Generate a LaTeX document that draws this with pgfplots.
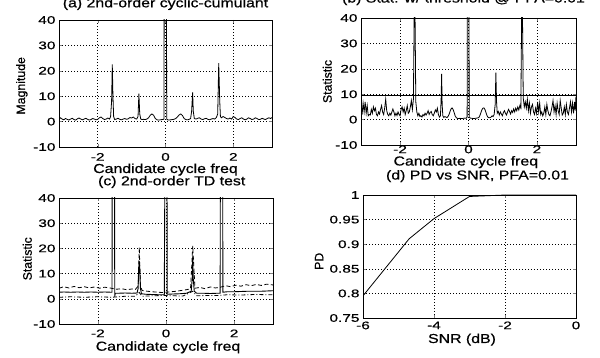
\documentclass[border=0pt]{standalone}
\usepackage{pgfplots}
\pgfplotsset{compat=1.18}
\usepackage{fontspec}
\setmainfont[FakeStretch=1.22,FakeBold=0.6]{Liberation Sans}
\newfontfamily\tickfont[FakeStretch=1.4,FakeBold=0.6]{Liberation Sans}
\newfontfamily\ylfont[FakeBold=0.6]{Liberation Sans}

\pgfplotstableread{
x y
-3.14 0.8
-3.10 1.5
-3.05 1.0
-3.00 0.7
-2.95 1.2
-2.90 0.9
-2.85 0.6
-2.80 1.0
-2.75 1.3
-2.70 0.8
-2.65 0.6
-2.60 1.1
-2.55 1.4
-2.50 1.0
-2.45 0.7
-2.40 1.0
-2.35 1.3
-2.30 0.9
-2.25 0.6
-2.20 0.8
-2.15 1.2
-2.10 1.0
-2.05 0.7
-2.00 0.9
-1.95 1.5
-1.90 1.8
-1.85 1.2
-1.80 0.8
-1.75 1.0
-1.70 1.4
-1.65 1.0
-1.62 2.0
-1.59 8
-1.57 22.5
-1.55 10
-1.53 2
-1.50 0.8
-1.45 1.0
-1.40 1.3
-1.35 0.9
-1.30 0.7
-1.25 1.0
-1.20 1.2
-1.15 0.9
-1.10 1.1
-1.05 1.6
-1.00 1.4
-0.95 1.8
-0.90 1.2
-0.85 1.0
-0.81 2
-0.785 11
-0.76 3
-0.73 1.0
-0.70 0.8
-0.65 0.9
-0.60 0.8
-0.55 1.0
-0.50 1.5
-0.45 2.5
-0.40 3.0
-0.35 2.5
-0.30 1.2
-0.25 0.7
-0.20 0.6
-0.15 0.7
-0.10 0.8
-0.06 0.9
-0.045 1
-0.04 45
0.03 45
0.035 1
0.06 0.7
0.10 0.6
0.15 0.7
0.20 0.8
0.25 0.9
0.30 1.2
0.35 1.8
0.40 2.6
0.45 3.0
0.50 2.4
0.55 1.2
0.60 0.8
0.65 0.7
0.70 0.9
0.74 1.2
0.77 4
0.80 11.5
0.82 4
0.85 1.2
0.90 1.0
0.95 1.3
1.00 1.5
1.05 1.0
1.10 0.8
1.15 1.1
1.20 1.3
1.25 0.9
1.30 0.7
1.35 1.0
1.40 1.2
1.45 1.0
1.50 1.6
1.54 3
1.57 23
1.60 8
1.62 2
1.65 1.5
1.70 2.0
1.75 1.6
1.80 1.2
1.85 1.0
1.90 1.4
1.95 1.0
2.00 2.0
2.05 1.6
2.10 1.0
2.15 0.8
2.20 1.2
2.25 1.5
2.30 1.0
2.35 0.7
2.40 1.0
2.45 1.5
2.50 1.2
2.55 0.8
2.60 1.0
2.65 1.5
2.70 1.2
2.75 0.8
2.80 0.9
2.85 1.3
2.90 1.0
2.95 0.8
3.00 1.2
3.05 1.5
3.10 1.2
3.14 1.6
}\dataA

\pgfplotstableread{
x y
-3.14 7.5
-3.11 2.0
-3.08 6.5
-3.05 3.0
-3.02 7.0
-2.99 2.5
-2.96 5.5
-2.93 1.5
-2.90 2.0
-2.87 1.8
-2.84 4.0
-2.81 2.5
-2.78 5.0
-2.75 3.5
-2.72 4.5
-2.69 2.0
-2.66 1.5
-2.63 3.0
-2.60 2.2
-2.57 4.0
-2.54 5.5
-2.51 3.0
-2.48 2.0
-2.45 4.5
-2.42 8.0
-2.39 3.5
-2.36 2.0
-2.33 1.5
-2.30 2.5
-2.27 1.8
-2.24 3.0
-2.21 4.2
-2.18 3.0
-2.15 1.5
-2.12 2.5
-2.09 1.6
-2.06 3.0
-2.03 2.0
-2.00 1.5
-1.97 4.0
-1.94 5.0
-1.91 3.0
-1.88 4.5
-1.85 2.0
-1.82 3.5
-1.79 5.5
-1.76 2.5
-1.73 3.0
-1.70 5.0
-1.67 7.5
-1.64 4.0
-1.61 8.0
-1.585 45
-1.565 45
-1.54 7
-1.51 3
-1.48 1.5
-1.45 2.5
-1.42 1.2
-1.39 1.5
-1.36 1.0
-1.33 2.0
-1.30 1.5
-1.27 2.5
-1.24 1.8
-1.21 2.5
-1.18 3.5
-1.15 2.0
-1.12 2.8
-1.09 3.2
-1.06 2.0
-1.03 1.5
-1.00 2.5
-0.97 3.8
-0.94 3.0
-0.91 4.5
-0.88 2.0
-0.85 1.0
-0.82 1.5
-0.80 8
-0.785 18
-0.77 6
-0.75 1.5
-0.72 0.8
-0.69 1.2
-0.66 1.0
-0.63 0.8
-0.60 1.2
-0.57 2.0
-0.54 3.2
-0.51 4.2
-0.48 4.6
-0.45 4.0
-0.42 2.8
-0.39 1.5
-0.36 0.8
-0.33 0.5
-0.30 0.4
-0.25 0.5
-0.20 0.4
-0.15 0.5
-0.10 0.6
-0.07 0.5
-0.04 1
-0.035 45
0.015 45
0.02 1
0.05 0.6
0.10 0.5
0.15 0.4
0.20 0.5
0.25 0.6
0.30 0.8
0.33 1.5
0.36 2.6
0.39 3.8
0.42 4.5
0.45 4.6
0.48 4.0
0.51 2.8
0.54 1.6
0.57 0.9
0.60 0.7
0.63 0.8
0.66 1.0
0.69 1.5
0.72 1.2
0.75 2.0
0.78 6
0.80 18.5
0.82 7
0.84 2.5
0.87 3.2
0.90 1.8
0.93 3.0
0.96 2.2
0.99 1.5
1.02 2.8
1.05 3.5
1.08 2.5
1.11 1.8
1.14 3.0
1.17 4.0
1.20 3.2
1.23 2.2
1.26 3.5
1.29 2.8
1.32 4.2
1.35 3.0
1.38 4.5
1.41 3.5
1.44 5.0
1.47 3.8
1.50 5.5
1.53 4.5
1.555 45
1.575 45
1.60 8.5
1.63 5.0
1.66 7.0
1.69 4.5
1.72 8.0
1.75 3.5
1.78 6.5
1.81 2.5
1.84 5.0
1.87 6.0
1.90 3.0
1.93 2.0
1.96 4.5
1.99 2.5
2.02 7.0
2.05 3.0
2.08 6.5
2.11 2.0
2.14 3.0
2.17 1.5
2.20 2.5
2.23 5.0
2.26 2.0
2.29 6.0
2.32 3.5
2.35 2.0
2.38 1.5
2.41 3.0
2.44 5.0
2.47 7.5
2.50 3.0
2.53 5.5
2.56 2.0
2.59 6.5
2.62 3.5
2.65 2.0
2.68 7.5
2.71 4.5
2.74 1.8
2.77 2.5
2.80 5.0
2.83 2.0
2.86 6.0
2.89 3.0
2.92 2.0
2.95 4.5
2.98 7.0
3.01 3.0
3.04 6.5
3.07 2.5
3.10 7.0
3.12 3.5
3.14 9.0
}\dataB

\pgfplotstableread{
x y
-3.14 2.6
-3.00 2.7
-2.80 2.6
-2.60 2.7
-2.40 2.6
-2.20 2.7
-2.00 2.6
-1.80 2.7
-1.62 2.6
-1.585 2.6
-1.58 45
-1.51 45
-1.505 0.8
-1.49 2.2
-1.40 2.2
-1.20 2.3
-1.00 2.2
-0.85 2.3
-0.82 4
-0.80 12
-0.785 15
-0.77 12
-0.75 4
-0.72 2.0
-0.60 1.8
-0.40 1.7
-0.20 1.6
-0.05 1.6
-0.035 45
0.03 45
0.035 1.8
0.20 1.9
0.40 2.0
0.60 2.2
0.74 3
0.77 8
0.785 17
0.80 8
0.83 3
0.90 2.2
1.10 2.2
1.30 2.1
1.50 2.2
1.59 2.2
1.595 45
1.665 45
1.67 2.6
1.80 2.8
2.00 2.8
2.40 3.0
2.80 3.0
3.14 3.2
}\dataCs

\pgfplotstableread{
x y
-3.14 4.2
-3.00 4.8
-2.85 4.3
-2.70 4.9
-2.55 4.4
-2.40 4.8
-2.25 4.3
-2.10 4.7
-1.95 4.2
-1.80 4.6
-1.65 4.3
-1.45 3.8
-1.30 4.0
-1.15 3.6
-1.00 3.9
-0.90 3.7
-0.82 5
-0.785 20.5
-0.75 5
-0.70 3.3
-0.55 3.0
-0.40 2.8
-0.25 2.6
-0.10 2.5
0.00 2.6
0.15 2.8
0.30 3.0
0.45 3.3
0.60 3.6
0.72 4.0
0.785 21
0.85 4.2
1.00 4.5
1.15 4.0
1.30 4.7
1.45 4.3
1.60 4.6
1.75 5.2
1.90 4.8
2.05 5.4
2.20 5.0
2.35 5.6
2.50 5.2
2.65 5.7
2.80 5.3
2.95 5.8
3.14 5.5
}\dataCu

\pgfplotstableread{
x y
-3.14 0.6
-2.80 0.8
-2.40 0.6
-2.00 0.8
-1.60 0.6
-1.20 1.0
-0.90 1.0
-0.785 2.5
-0.70 1.0
-0.40 1.2
-0.10 1.3
0.20 1.2
0.50 1.1
0.785 3.0
0.90 1.2
1.20 1.3
1.50 1.3
1.80 1.6
2.20 1.5
2.60 1.7
3.14 1.6
}\dataCl

\pgfplotstableread{
x y
-6 0.795
-5.35 0.853
-4.70 0.911
-4.00 0.952
-3.60 0.970
-3.00 0.997
-2.00 1.000
0 1.000
}\dataD

\pgfplotsset{
  every axis/.append style={
    scale only axis,
    axis line style={line width=0.9pt},
    tick align=inside,
    major tick length=3pt,
    grid=major,
    major grid style={black, line width=0.5pt, dash pattern=on 0.7pt off 2.3pt},
    /pgf/number format/assume math mode=true,
    tick label style={font=\tickfont\fontsize{11}{13}\selectfont},
    label style={font=\fontsize{13}{15}\selectfont},
    title style={font=\fontsize{13}{15}\selectfont, anchor=base, at={(axis description cs:0.5,1)}},
    xlabel style={anchor=base, at={(axis description cs:0.5,0)}},
    ylabel style={font=\ylfont\fontsize{12.3}{14}\selectfont, anchor=base, at={(axis description cs:0,0.5)}},
  },
  freqaxis/.style={
    xmin=-3.1416, xmax=3.1416, ymin=-10, ymax=40,
    xtick={-2,0,2}, ytick={-10,0,10,20,30,40},
    xlabel={Candidate cycle freq},
  },
}

\begin{document}
\begin{tikzpicture}
\useasboundingbox (0,0) rectangle (600pt,358pt);

% (a)
\begin{axis}[freqaxis, at={(59pt,211pt)}, anchor=south west, width=213pt, height=127pt,
  title={(a) 2nd-order cyclic-cumulant}, title style={yshift=6.7pt},
  ylabel={Magnitude}, ylabel style={yshift=34pt, xshift=-2.3pt},
  xlabel style={yshift=-26pt},
  xticklabel style={yshift=-2.5pt}]
\addplot[black, line width=0.8pt] table[x=x,y=y] {\dataA};
\end{axis}

% (b)
\begin{axis}[freqaxis, at={(361pt,213pt)}, anchor=south west, width=215pt, height=127pt,
  title={(b) Stat. w/ threshold @ PFA=0.01}, title style={yshift=9.5pt, xshift=-5pt},
  ylabel={Statistic}, ylabel style={yshift=29.3pt},
  xlabel style={yshift=-20.5pt, xshift=-2.7pt},
  xticklabel style={yshift=3pt}]
\addplot[black, line width=0.8pt] table[x=x,y=y] {\dataB};
\addplot[black, line width=0.9pt] coordinates {(-3.1416,9.6) (3.1416,9.6)};
\end{axis}

% (c)
\begin{axis}[freqaxis, at={(59pt,34pt)}, anchor=south west, width=214pt, height=126pt,
  title={(c) 2nd-order TD test}, title style={yshift=6.7pt, xshift=5.7pt},
  ylabel={Statistic}, ylabel style={yshift=27.3pt, xshift=2.2pt},
  xlabel style={yshift=-26.7pt, xshift=2pt},
  xticklabel style={yshift=-2pt}]
\addplot[black, line width=0.8pt, dash pattern=on 4pt off 2.5pt] table[x=x,y=y] {\dataCu};
\addplot[black, line width=0.8pt, dash pattern=on 4pt off 2pt on 1pt off 2pt] table[x=x,y=y] {\dataCl};
\addplot[black, line width=0.9pt] table[x=x,y=y] {\dataCs};
\end{axis}

% (d)
\begin{axis}[at={(363pt,40pt)}, anchor=south west, width=213pt, height=123pt,
  xmin=-6, xmax=0, ymin=0.75, ymax=1,
  xtick={-6,-4,-2,0}, ytick={0.75,0.8,0.85,0.9,0.95,1},
  yticklabels={0.75,0.8,0.85,0.9,0.95,1},
  title={(d) PD vs SNR, PFA=0.01}, title style={yshift=9.5pt, xshift=8pt},
  ylabel={PD}, ylabel style={yshift=39.7pt, xshift=-4.8pt},
  xlabel={SNR (dB)}, xlabel style={yshift=-25pt, xshift=-7.5pt},
  xticklabel style={yshift=0pt}]
\addplot[black, line width=0.8pt] table[x=x,y=y] {\dataD};
\end{axis}
\end{tikzpicture}
\end{document}
